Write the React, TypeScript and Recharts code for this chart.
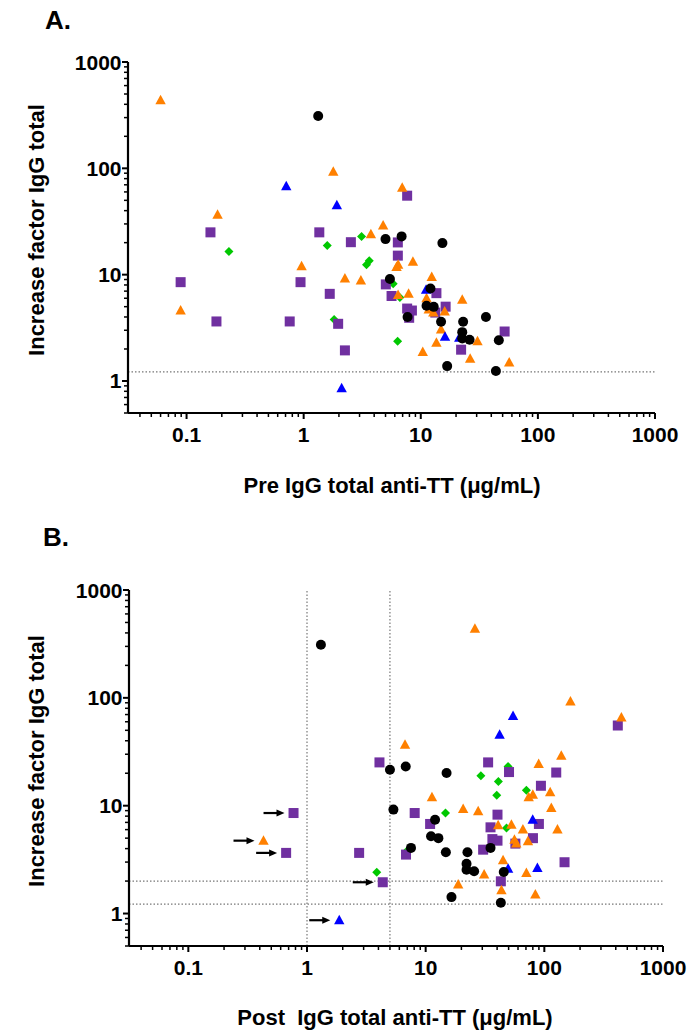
import React from 'react';
import { ScatterChart, Scatter, XAxis, YAxis, ReferenceLine, Label } from 'recharts';

// ---------- Panel A : Pre IgG total anti-TT vs increase factor ----------
const aBlackX = [1.33, 5.0, 6.86, 15.3, 5.45, 12.1, 7.71, 11.2, 12.9, 14.9, 23, 36, 22.6, 22.6, 26.1, 46.4, 16.8, 43.8];
const aBlackY = [311, 21.6, 22.9, 19.8, 9.1, 7.4, 4.0, 5.1, 4.98, 3.6, 3.6, 4.0, 2.88, 2.51, 2.44, 2.42, 1.38, 1.24];

const aPurpleX = [0.16, 1.36, 2.53, 0.089, 0.94, 1.67, 0.18, 0.76, 1.97, 2.25, 7.65, 6.37, 6.37, 5.03, 13.6, 5.63, 7.65, 8.4, 7.96, 16.3, 13.3, 52, 22.1];
const aPurpleY = [25, 25, 20.2, 8.5, 8.5, 6.6, 3.63, 3.63, 3.45, 1.94, 55.3, 20.1, 15.1, 8.1, 6.7, 6.3, 4.8, 4.6, 3.93, 5.0, 4.4, 2.92, 1.97];

const aOrangeX = [0.06, 1.79, 0.184, 0.96, 2.25, 3.08, 0.089, 6.94, 4.77, 3.75, 8.57, 6.41, 6.21, 12.4, 6.4, 7.87, 22.6, 11.2, 11.7, 12.8, 16, 14.9, 30.5, 13.6, 10.4, 26.4, 56.9];
const aOrangeY = [437, 93, 36.5, 12, 9.2, 8.8, 4.6, 65.8, 29, 24, 13.2, 12.4, 11.8, 9.5, 6.45, 6.6, 5.8, 6.0, 4.7, 4.4, 4.5, 3.05, 2.37, 2.29, 1.87, 1.62, 1.49];

const aBlueX = [0.71, 1.92, 2.11, 11.1, 16.1, 21.3];
const aBlueY = [68, 45, 0.855, 7.2, 2.6, 2.55];

const aGreenX = [0.23, 1.59, 3.12, 3.44, 3.63, 1.82, 5.81, 6.63, 6.34];
const aGreenY = [16.5, 18.8, 22.9, 12.4, 13.5, 3.79, 8.2, 6.1, 2.36];

// ---------- Panel B : Post IgG total anti-TT vs increase factor ----------
const bBlackX = [1.31, 5.0, 6.79, 15, 5.35, 12, 11.1, 12.8, 7.52, 14.8, 22.5, 35.2, 22.1, 22.1, 25.6, 45.5, 16.5, 43];
const bBlackY = [311, 21.5, 23.1, 20.1, 9.2, 7.4, 5.2, 5.0, 4.06, 3.7, 3.7, 4.06, 2.9, 2.55, 2.47, 2.43, 1.42, 1.26];

const bPurpleX = [4.08, 33.6, 50.4, 8.08, 40.3, 10.9, 35.2, 36.5, 40.3, 57, 6.83, 30.5, 43, 4.35, 0.77, 0.667, 2.75, 416, 126, 93.6, 90, 80.2, 148];
const bPurpleY = [25.2, 25.2, 20.5, 8.55, 8.26, 6.77, 6.3, 4.9, 4.74, 4.45, 3.52, 3.91, 1.99, 1.95, 8.55, 3.65, 3.65, 55.4, 20.3, 15.3, 6.77, 5.0, 2.99];

const bOrangeX = [26, 166, 6.7, 11.3, 20.7, 27.7, 0.43, 446, 139, 89.6, 112, 80, 73.8, 114.5, 40.8, 52.8, 129, 66, 56, 72.8, 44.9, 70.6, 31.1, 18.8, 43.5, 84, 58];
const bOrangeY = [437, 92.4, 36.7, 12, 9.3, 8.86, 4.74, 65.7, 29, 24.3, 13.3, 12.6, 12, 9.5, 6.6, 6.67, 6.0, 6.0, 4.84, 4.67, 3.12, 2.38, 2.3, 1.86, 1.64, 1.5, 4.45];

const bBlueX = [54.5, 42, 1.87, 79.8, 49.5, 87.4];
const bBlueY = [68, 45.4, 0.867, 7.42, 2.6, 2.65];

const bGreenX = [49.5, 29.2, 41, 39.7, 70.6, 14.7, 48, 6.92, 3.87];
const bGreenY = [23.1, 19, 16.8, 12.5, 13.9, 8.55, 6.2, 3.78, 2.41];

// points marked with an arrow in panel B
const bArrowX = [0.77, 0.43, 0.667, 1.87, 4.35];
const bArrowY = [8.55, 4.74, 3.65, 0.867, 1.95];

// reference (cut-off) lines
const aRefY = [1.22];
const bRefY = [2, 1.22];
const bRefX = [1, 5];

// axes
const xMajorTicks = [0.1, 1, 10, 100, 1000];
const yMajorTicks = [1, 10, 100, 1000];
const X_DOMAIN: [number, number] = [Math.pow(10, -1.5), 1000];
const Y_DOMAIN: [number, number] = [0.5, 1000];

const minorMantissas = [2, 3, 4, 5, 6, 7, 8, 9];
const xTicks: number[] = [0.04, 0.05, 0.06, 0.07, 0.08, 0.09];
xMajorTicks.forEach((m, i) => {
  xTicks.push(m);
  if (i < xMajorTicks.length - 1) minorMantissas.forEach((k) => xTicks.push(+(m * k).toPrecision(6)));
});
const yTicks: number[] = [0.5, 0.6, 0.7, 0.8, 0.9];
yMajorTicks.forEach((m, i) => {
  yTicks.push(m);
  if (i < yMajorTicks.length - 1) minorMantissas.forEach((k) => yTicks.push(+(m * k).toPrecision(6)));
});

const FONT = '"Liberation Sans", Arial, Helvetica, sans-serif';
const isMajor = (v: number) => xMajorTicks.includes(v) || yMajorTicks.includes(v);

const zip = (xs: number[], ys: number[]) => xs.map((x, i) => ({ x, y: ys[i] }));

const XTick = (props: any) => {
  const { x, y, payload } = props;
  const v = payload.value;
  const major = isMajor(v);
  return (
    <g>
      <line x1={x} x2={x} y1={y} y2={y + (major ? 6 : 4)} stroke="#000" strokeWidth={major ? 2 : 1.5} />
      {major && (
        <text x={x} y={y + 21} textAnchor="middle" dominantBaseline="central" fontFamily={FONT} fontWeight="bold" fontSize={21} fill="#000">
          {String(v)}
        </text>
      )}
    </g>
  );
};

const YTick = (props: any) => {
  const { x, y, payload } = props;
  const v = payload.value;
  const major = isMajor(v);
  return (
    <g>
      <line x1={x - (major ? 6 : 4)} x2={x} y1={y} y2={y} stroke="#000" strokeWidth={major ? 2 : 1.5} />
      {major && (
        <text x={x - 6.5} y={y} textAnchor="end" dominantBaseline="central" fontFamily={FONT} fontWeight="bold" fontSize={21} fill="#000">
          {String(v)}
        </text>
      )}
    </g>
  );
};

const PURPLE = '#7030A0';
const ORANGE = '#FF8000';
const BLUE = '#0000FF';
const GREEN = '#00C800';

const Circle = (p: any) => <circle cx={p.cx} cy={p.cy} r={5} fill="#000" />;
const Square = (p: any) => <rect x={p.cx - 5} y={p.cy - 5} width={10} height={10} fill={PURPLE} />;
const makeTri = (color: string) => (p: any) => (
  <polygon points={`${p.cx},${p.cy - 5.5} ${p.cx + 5.2},${p.cy + 4} ${p.cx - 5.2},${p.cy + 4}`} fill={color} />
);
const OrangeTri = makeTri(ORANGE);
const BlueTri = makeTri(BLUE);
const Diamond = (p: any) => (
  <polygon points={`${p.cx},${p.cy - 4.5} ${p.cx + 4.5},${p.cy} ${p.cx},${p.cy + 4.5} ${p.cx - 4.5},${p.cy}`} fill={GREEN} />
);
const Arrow = (p: any) => (
  <g>
    <line x1={p.cx - 30} x2={p.cx - 16} y1={p.cy} y2={p.cy} stroke="#000" strokeWidth={2.2} />
    <polygon points={`${p.cx - 9},${p.cy} ${p.cx - 17},${p.cy - 3.5} ${p.cx - 17},${p.cy + 3.5}`} fill="#000" />
  </g>
);

type PanelProps = {
  top: number;
  letter: string;
  letterX: number;
  letterY: number;
  margin: { top: number; right: number; bottom: number; left: number };
  yAxisWidth: number;
  xTitle: string;
  xTitleX: number;
  xTitleY: number;
  yTitleX: number;
  yTitleY: number;
  black: { x: number; y: number }[];
  purple: { x: number; y: number }[];
  orange: { x: number; y: number }[];
  blue: { x: number; y: number }[];
  green: { x: number; y: number }[];
  arrows?: { x: number; y: number }[];
  refY: number[];
  refX: number[];
};

const Panel = (p: PanelProps) => (
  <div style={{ position: 'absolute', left: 0, top: p.top, width: 694, height: 510 }}>
    <ScatterChart width={694} height={510} margin={p.margin}>
      <XAxis
        dataKey="x"
        type="number"
        scale="log"
        domain={X_DOMAIN}
        allowDataOverflow
        ticks={xTicks}
        interval={0}
        tick={<XTick />}
        tickLine={false}
        tickSize={0}
        tickMargin={0}
        height={60}
        axisLine={{ stroke: '#000', strokeWidth: 2.2 }}
      >
        <Label
          content={() => (
            <text x={p.xTitleX} y={p.xTitleY} textAnchor="middle" dominantBaseline="central" fontFamily={FONT} fontWeight="bold" fontSize={22} fill="#000" style={{ whiteSpace: 'pre' }}>
              {p.xTitle}
            </text>
          )}
        />
      </XAxis>
      <YAxis
        dataKey="y"
        type="number"
        scale="log"
        domain={Y_DOMAIN}
        allowDataOverflow
        ticks={yTicks}
        interval={0}
        tick={<YTick />}
        tickLine={false}
        tickSize={0}
        tickMargin={0}
        width={p.yAxisWidth}
        axisLine={{ stroke: '#000', strokeWidth: 2.2 }}
      >
        <Label
          content={() => (
            <text
              x={p.yTitleX}
              y={p.yTitleY}
              transform={`rotate(-90 ${p.yTitleX} ${p.yTitleY})`}
              textAnchor="middle"
              dominantBaseline="central"
              fontFamily={FONT}
              fontWeight="bold"
              fontSize={22}
              fill="#000"
            >
              Increase factor IgG total
            </text>
          )}
        />
      </YAxis>
      {p.refY.map((v) => (
        <ReferenceLine key={'ry' + v} y={v} stroke="#777" strokeWidth={1.2} strokeDasharray="1.5 2" />
      ))}
      {p.refX.map((v) => (
        <ReferenceLine key={'rx' + v} x={v} stroke="#777" strokeWidth={1.2} strokeDasharray="1.5 2" />
      ))}
      <Scatter data={p.green} shape={Diamond} isAnimationActive={false} />
      <Scatter data={p.purple} shape={Square} isAnimationActive={false} />
      <Scatter data={p.orange} shape={OrangeTri} isAnimationActive={false} />
      <Scatter data={p.blue} shape={BlueTri} isAnimationActive={false} />
      <Scatter data={p.black} shape={Circle} isAnimationActive={false} />
      {p.arrows && <Scatter data={p.arrows} shape={Arrow} isAnimationActive={false} />}
    </ScatterChart>
    <div
      style={{
        position: 'absolute',
        left: p.letterX,
        top: p.letterY,
        fontFamily: FONT,
        fontWeight: 'bold',
        fontSize: 26,
        lineHeight: '26px',
        color: '#000',
      }}
    >
      {p.letter}
    </div>
  </div>
);

export default function App() {
  return (
    <div style={{ position: 'absolute', left: 0, top: 0, width: 694, height: 1030, background: '#fff' }}>
      <Panel
        top={0}
        letter="A."
        letterX={45}
        letterY={7}
        margin={{ top: 62, right: 39, bottom: 37, left: 0 }}
        yAxisWidth={128}
        xTitle="Pre IgG total anti-TT (μg/mL)"
        xTitleX={392}
        xTitleY={485}
        yTitleX={36}
        yTitleY={230}
        black={zip(aBlackX, aBlackY)}
        purple={zip(aPurpleX, aPurpleY)}
        orange={zip(aOrangeX, aOrangeY)}
        blue={zip(aBlueX, aBlueY)}
        green={zip(aGreenX, aGreenY)}
        refY={aRefY}
        refX={[]}
      />
      <Panel
        top={520}
        letter="B."
        letterX={43}
        letterY={4}
        margin={{ top: 70, right: 31, bottom: 24, left: 0 }}
        yAxisWidth={129}
        xTitle={'Post \u00a0IgG total anti-TT (μg/mL)'}
        xTitleX={395}
        xTitleY={497}
        yTitleX={36}
        yTitleY={241}
        black={zip(bBlackX, bBlackY)}
        purple={zip(bPurpleX, bPurpleY)}
        orange={zip(bOrangeX, bOrangeY)}
        blue={zip(bBlueX, bBlueY)}
        green={zip(bGreenX, bGreenY)}
        arrows={zip(bArrowX, bArrowY)}
        refY={bRefY}
        refX={bRefX}
      />
    </div>
  );
}
